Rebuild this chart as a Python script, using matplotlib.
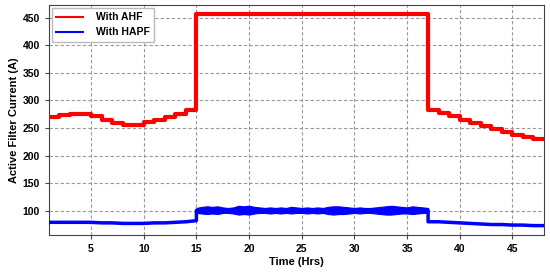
import numpy as np
import matplotlib
matplotlib.use("Agg")
import matplotlib.pyplot as plt

plt.rcParams["font.family"] = ["Liberation Sans", "DejaVu Sans"]
plt.rcParams["font.weight"] = "bold"

# With AHF: hourly step values (A)
ahf_t = [1, 2, 3, 4, 5, 6, 7, 8, 9, 10, 11, 12, 13, 14, 15,
         37, 38, 39, 40, 41, 42, 43, 44, 45, 46, 47, 48]
ahf_i = [270, 274, 276, 275, 271, 264, 259, 256, 256, 260, 265, 270, 276, 282, 457,
         282, 277, 271, 265, 259, 253, 248, 242, 237, 234, 230, 230]

# With HAPF: low-load periods (hourly)
hapf_t1 = [1, 2, 3, 4, 5, 6, 7, 8, 9, 10, 11, 12, 13, 14, 15]
hapf_i1 = [79, 79, 79, 79, 79, 78, 78, 77, 77, 77, 78, 78, 79, 80, 82]
hapf_t3 = [37, 38, 39, 40, 41, 42, 43, 44, 45, 46, 47, 48]
hapf_i3 = [80, 80, 79, 78, 77, 76, 75, 75, 74, 74, 73, 73]

# With HAPF: high-load period, ripple envelope (half-hourly)
hapf_t2 = [15, 15.5, 16, 16.5, 17, 17.5, 18, 18.5, 19, 19.5, 20, 20.5, 21, 21.5,
           22, 22.5, 23, 23.5, 24, 24.5, 25, 25.5, 26, 26.5, 27, 27.5, 28, 28.5,
           29, 29.5, 30, 30.5, 31, 31.5, 32, 32.5, 33, 33.5, 34, 34.5, 35, 35.5,
           36, 36.5, 37]
hapf_hi = [105, 107, 108, 107, 108, 106, 105, 106, 109, 108, 109, 107, 106, 105,
           106, 105, 106, 105, 107, 106, 105, 106, 105, 106, 105, 107, 108, 108,
           107, 106, 105, 106, 105, 105, 106, 107, 108, 109, 108, 107, 106, 108,
           107, 106, 105]
hapf_lo = [96, 95, 94, 95, 94, 96, 96, 95, 93, 94, 93, 95, 96, 96,
           95, 96, 95, 96, 95, 96, 96, 95, 96, 95, 96, 94, 93, 94,
           94, 95, 96, 95, 96, 96, 95, 94, 93, 93, 94, 95, 95, 94,
           95, 96, 96]

fig = plt.figure(figsize=(5.5, 2.72), dpi=100)
ax = fig.add_axes([0.089, 0.136, 0.9, 0.846])

ax.step(ahf_t, ahf_i, where="post", color="red", lw=3, label="With AHF", zorder=3)

hi = np.array(hapf_hi)
lo = np.array(hapf_lo)
mid = (hi + lo) / 2
ax.fill_between(hapf_t2, lo, hi, color="blue", lw=0.8, edgecolor="blue", zorder=3)
bt = hapf_t1 + hapf_t2 + hapf_t3
bi = hapf_i1 + list(mid) + hapf_i3
ax.plot(bt, bi, color="blue", lw=2.5, label="With HAPF", zorder=3)

ax.set_xlim(1, 48)
ax.set_ylim(56, 473)
ax.set_xticks([5, 10, 15, 20, 25, 30, 35, 40, 45])
ax.set_yticks([100, 150, 200, 250, 300, 350, 400, 450])
ax.tick_params(labelsize=7.5, length=3, color="#444444")
for lab in ax.get_xticklabels() + ax.get_yticklabels():
    lab.set_fontweight("bold")
ax.grid(True, ls=(0, (3, 2)), color="#999999", lw=0.8)
for s in ax.spines.values():
    s.set_color("#444444")

ax.set_xlabel("Time (Hrs)", fontsize=8, fontweight="bold", labelpad=2)
ax.set_ylabel("Active Filter Current (A)", fontsize=8, fontweight="bold", labelpad=3)

leg = ax.legend(loc="upper left", fontsize=7.5, handlelength=2.6, handletextpad=1.2,
                borderaxespad=0.3, fancybox=False, framealpha=1, edgecolor="#bbbbbb")
for line in leg.get_lines():
    line.set_linewidth(1.5)

fig.savefig("out.png", dpi=100)
